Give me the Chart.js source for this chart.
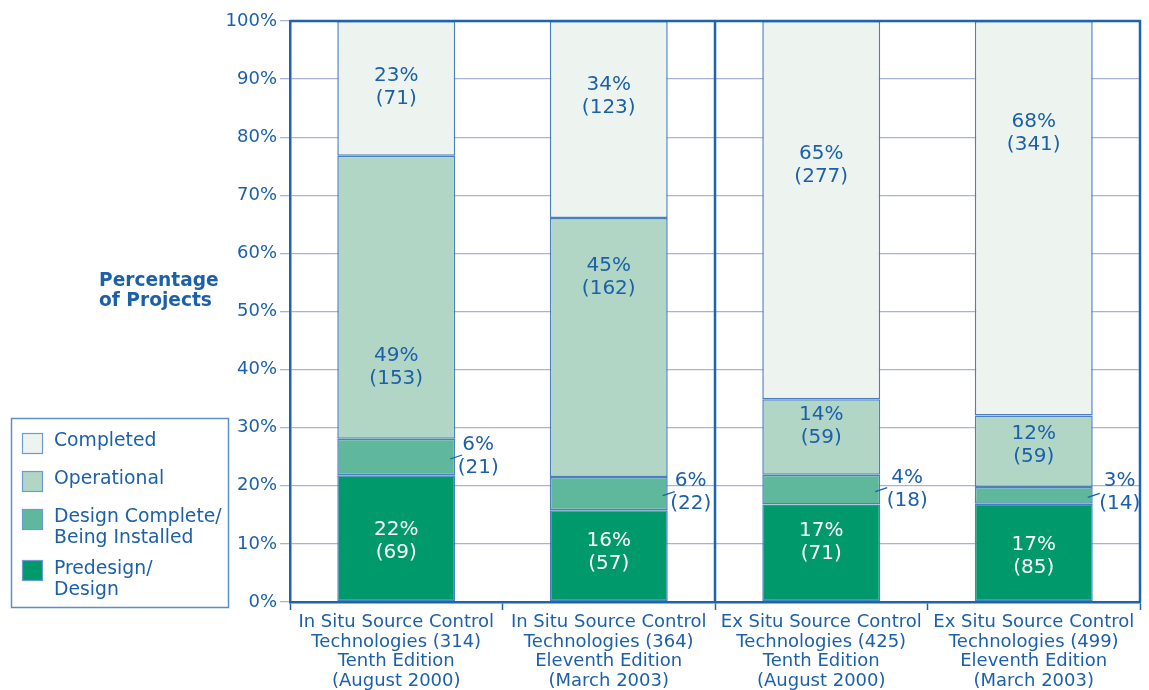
<!DOCTYPE html>
<html>
<head>
<meta charset="utf-8">
<script src="https://cdn.jsdelivr.net/npm/chart.js@4"></script>
<style>
  html, body { margin: 0; padding: 0; background: #ffffff; }
  #wrap { position: relative; width: 1149px; height: 690px; }
</style>
</head>
<body>
<div id="wrap"><canvas id="c" width="1149" height="690"></canvas></div>
<script>
// ---- data ----
const categories = [
  ['In Situ Source Control', 'Technologies (314)', 'Tenth Edition', '(August 2000)'],
  ['In Situ Source Control', 'Technologies (364)', 'Eleventh Edition', '(March 2003)'],
  ['Ex Situ Source Control', 'Technologies (425)', 'Tenth Edition', '(August 2000)'],
  ['Ex Situ Source Control', 'Technologies (499)', 'Eleventh Edition', '(March 2003)']
];
const seriesNames = ['Predesign/\nDesign', 'Design Complete/\nBeing Installed', 'Operational', 'Completed'];
const predesign      = [21.8, 15.8, 16.8, 16.9];
const designComplete = [6.3, 5.7, 5.1, 2.9];
const operational    = [48.7, 44.6, 13.0, 12.3];
const completed      = [23.2, 33.9, 65.1, 67.9];
const predesignLabels      = ['22%', '16%', '17%', '17%'];
const predesignCounts      = ['(69)', '(57)', '(71)', '(85)'];
const designCompleteLabels = ['6%', '6%', '4%', '3%'];
const designCompleteCounts = ['(21)', '(22)', '(18)', '(14)'];
const operationalLabels    = ['49%', '45%', '14%', '12%'];
const operationalCounts    = ['(153)', '(162)', '(59)', '(59)'];
const completedLabels      = ['23%', '34%', '65%', '68%'];
const completedCounts      = ['(71)', '(123)', '(277)', '(341)'];
const yTicks = [0, 10, 20, 30, 40, 50, 60, 70, 80, 90, 100];

// label anchor heights (in % units on the y scale)
const labelAnchors = [
  [10.5, 8.6, 10.2, 7.9],     // predesign
  [25.0, 18.8, 19.4, 18.8],   // design complete (outside)
  [40.4, 55.9, 30.3, 26.9],   // operational
  [88.6, 87.1, 75.2, 80.6]    // completed
];

const BLUE = '#1c60aa';
const AXIS = '#1c64b0';
const GRID = '#a9b2de';
const BARBORDER = '#4a80c0';
const colors = ['#00996b', '#5fb89b', '#b1d6c6', '#edf4f0'];
const FONT = '"DejaVu Sans", sans-serif';

const seriesData = [predesign, designComplete, operational, completed];
const seriesText = [
  [predesignLabels, predesignCounts],
  [designCompleteLabels, designCompleteCounts],
  [operationalLabels, operationalCounts],
  [completedLabels, completedCounts]
];

const decorPlugin = {
  id: 'decor',
  beforeDatasetsDraw(chart) {
    const { ctx, chartArea, scales } = chart;
    const xs = scales.x;
    const xm = (xs.getPixelForValue(1) + xs.getPixelForValue(2)) / 2;
    ctx.save();
    ctx.strokeStyle = AXIS;
    ctx.lineWidth = 2.5;
    ctx.beginPath();
    ctx.moveTo(xm, chartArea.top);
    ctx.lineTo(xm, chartArea.bottom);
    ctx.stroke();
    ctx.restore();
  },
  afterDatasetsDraw(chart) {
    const { ctx, chartArea, scales } = chart;
    const ys = scales.y;
    ctx.save();
    ctx.strokeStyle = AXIS;
    ctx.lineWidth = 2.5;
    ctx.beginPath();
    ctx.moveTo(chartArea.left, chartArea.top);
    ctx.lineTo(chartArea.right, chartArea.top);
    ctx.lineTo(chartArea.right, chartArea.bottom);
    ctx.stroke();

    ctx.font = '20px ' + FONT;
    ctx.textAlign = 'center';
    ctx.textBaseline = 'middle';
    const lh = 23;
    for (let d = 0; d < 4; d++) {
      const meta = chart.getDatasetMeta(d);
      meta.data.forEach((bar, i) => {
        const cy = ys.getPixelForValue(labelAnchors[d][i]);
        const lines = [seriesText[d][0][i], seriesText[d][1][i]];
        let cx = bar.x;
        ctx.fillStyle = d === 0 ? '#ffffff' : BLUE;
        if (d === 1) {
          const edge = bar.x + bar.width / 2;
          cx = edge + (i < 2 ? 23 : 27);
          const segMid = (bar.y + bar.base) / 2;
          ctx.strokeStyle = BLUE;
          ctx.lineWidth = 1.2;
          ctx.beginPath();
          ctx.moveTo(edge - 5, segMid + 2);
          ctx.lineTo(edge + 7, segMid - 2);
          ctx.stroke();
        }
        ctx.fillText(lines[0], cx, cy - lh / 2);
        ctx.fillText(lines[1], cx, cy + lh / 2);
      });
    }

    ctx.fillStyle = BLUE;
    ctx.textAlign = 'left';
    ctx.textBaseline = 'middle';
    ctx.font = 'bold 18.6px ' + FONT;
    ctx.fillText('Percentage', 99, 281);
    ctx.fillText('of Projects', 99, 301);

    ctx.strokeStyle = '#5b8fc8';
    ctx.lineWidth = 1.5;
    ctx.strokeRect(11.5, 418.5, 217, 189);
    const items = [
      { c: 3, sw: 433, lines: [441] },
      { c: 2, sw: 471, lines: [479] },
      { c: 1, sw: 509, lines: [517, 538] },
      { c: 0, sw: 560, lines: [569, 590] }
    ];
    ctx.font = '18.8px ' + FONT;
    items.forEach(it => {
      ctx.fillStyle = colors[it.c];
      ctx.fillRect(22, it.sw, 21, 21);
      ctx.strokeStyle = '#6b9bd0';
      ctx.lineWidth = 1.2;
      ctx.strokeRect(22.5, it.sw + 0.5, 20, 20);
      ctx.fillStyle = BLUE;
      const txt = chart.data.datasets[it.c].label.split('\n');
      txt.forEach((t, k) => ctx.fillText(t, 54, it.lines[k]));
    });
    ctx.restore();
  }
};

const datasets = seriesData.map((arr, k) => ({
  label: seriesNames[k],
  data: arr,
  backgroundColor: colors[k],
  borderColor: BARBORDER,
  borderWidth: 1.5,
  borderSkipped: false,
  categoryPercentage: 1.0,
  barPercentage: 0.555
}));

new Chart(document.getElementById('c'), {
  type: 'bar',
  data: { labels: categories, datasets },
  options: {
    responsive: false,
    animation: false,
    devicePixelRatio: 1,
    layout: { padding: { left: 0, right: 9, top: 21, bottom: 0 } },
    plugins: { legend: { display: false }, tooltip: { enabled: false } },
    scales: {
      x: {
        stacked: true,
        afterFit(s) { s.height = 88; },
        grid: {
          offset: true,
          drawOnChartArea: false,
          drawTicks: true,
          tickLength: 8,
          tickColor: AXIS,
          tickWidth: 1.5
        },
        border: { color: AXIS, width: 2.5 },
        ticks: {
          color: BLUE,
          font: { family: FONT, size: 18, lineHeight: 1.08 },
          padding: 3,
          maxRotation: 0,
          autoSkip: false
        }
      },
      y: {
        stacked: true,
        min: 0,
        max: 100,
        afterFit(s) { s.width = 290; },
        afterBuildTicks(s) { s.ticks = yTicks.map(v => ({ value: v })); },
        grid: {
          color: GRID,
          lineWidth: 1.3,
          tickLength: 10,
          tickColor: GRID
        },
        border: { color: AXIS, width: 2.5 },
        ticks: {
          color: BLUE,
          font: { family: FONT, size: 18 },
          padding: 3,
          callback: v => v + '%'
        }
      }
    }
  },
  plugins: [decorPlugin]
});
</script>
</body>
</html>
